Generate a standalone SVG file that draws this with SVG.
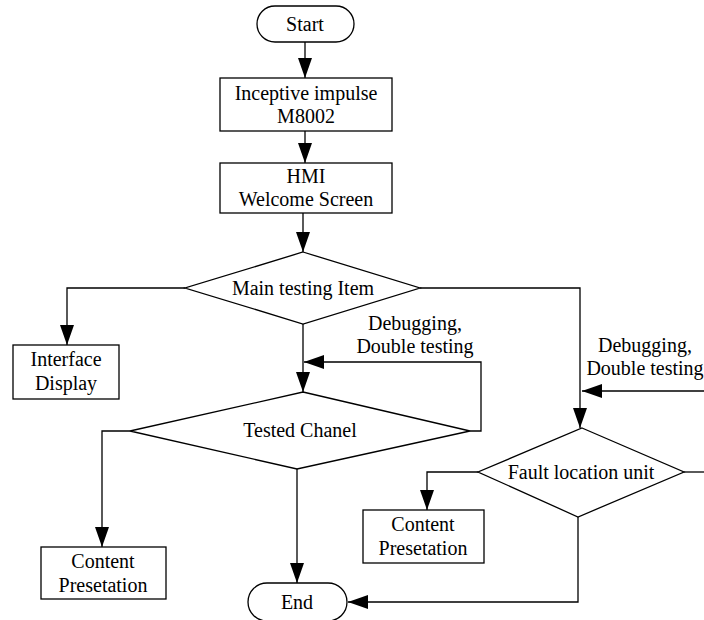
<svg xmlns="http://www.w3.org/2000/svg" width="704" height="620" viewBox="0 0 704 620">
<style>
.s{fill:#fff;stroke:#000;stroke-width:1.3}
.c{fill:none;stroke:#000;stroke-width:1.3}
text{font-family:"Liberation Serif","Times New Roman",serif;font-size:20px;fill:#000;text-anchor:middle}
</style>
<defs>
<marker id="a" markerUnits="userSpaceOnUse" markerWidth="20" markerHeight="14" refX="20" refY="7" orient="auto">
<path d="M0,0 L20,7 L0,14 z" fill="#000"/>
</marker>
</defs>
<rect width="704" height="620" fill="#fff"/>
<g id="connectors">
<path class="c" d="M305,42 V78" marker-end="url(#a)"/>
<path class="c" d="M305,131 V163" marker-end="url(#a)"/>
<path class="c" d="M303,213 V252" marker-end="url(#a)"/>
<path class="c" d="M185,288 H67 V345" marker-end="url(#a)"/>
<path class="c" d="M420,288 H580 V428" marker-end="url(#a)"/>
<path class="c" d="M303,324 V392" marker-end="url(#a)"/>
<path class="c" d="M470,431 H481 V362 H304" marker-end="url(#a)"/>
<path class="c" d="M704,391 H582" marker-end="url(#a)"/>
<path class="c" d="M130,431 H102 V547" marker-end="url(#a)"/>
<path class="c" d="M297,469 V583" marker-end="url(#a)"/>
<path class="c" d="M478,472 H427 V510" marker-end="url(#a)"/>
<path class="c" d="M684,472 H704"/>
<path class="c" d="M578,517 V602 H348" marker-end="url(#a)"/>
</g>
<g id="start">
<rect class="s" x="257" y="6" width="97" height="36" rx="18"/>
<text x="305" y="31">Start</text>
</g>
<g id="inceptive">
<rect class="s" x="220" y="78" width="172" height="53"/>
<text x="306" y="100">Inceptive impulse</text>
<text x="306" y="123">M8002</text>
</g>
<g id="hmi">
<rect class="s" x="220" y="163" width="172" height="50"/>
<text x="306" y="183">HMI</text>
<text x="306" y="206">Welcome Screen</text>
</g>
<g id="main">
<polygon class="s" points="303,252 420,288 303,324 185,288"/>
<text x="303" y="295">Main testing Item</text>
</g>
<g id="interface">
<rect class="s" x="13" y="345" width="106" height="54"/>
<text x="66" y="366">Interface</text>
<text x="66" y="390">Display</text>
</g>
<g id="label1">
<text x="415" y="330">Debugging,</text>
<text x="415" y="353">Double testing</text>
</g>
<g id="tested">
<polygon class="s" points="303,392 470,431 297,469 130,431"/>
<text x="300" y="437">Tested Chanel</text>
</g>
<g id="label2">
<text x="645" y="352">Debugging,</text>
<text x="645" y="375">Double testing</text>
</g>
<g id="fault">
<polygon class="s" points="582,428 684,472 578,517 478,472"/>
<text x="581" y="479">Fault location unit</text>
</g>
<g id="content1">
<rect class="s" x="41" y="547" width="125" height="52"/>
<text x="103" y="568">Content</text>
<text x="103" y="592">Presetation</text>
</g>
<g id="content2">
<rect class="s" x="363" y="510" width="121" height="53"/>
<text x="423" y="531">Content</text>
<text x="423" y="555">Presetation</text>
</g>
<g id="end">
<rect class="s" x="248" y="583" width="99" height="38" rx="19"/>
<text x="297" y="609">End</text>
</g>
</svg>
